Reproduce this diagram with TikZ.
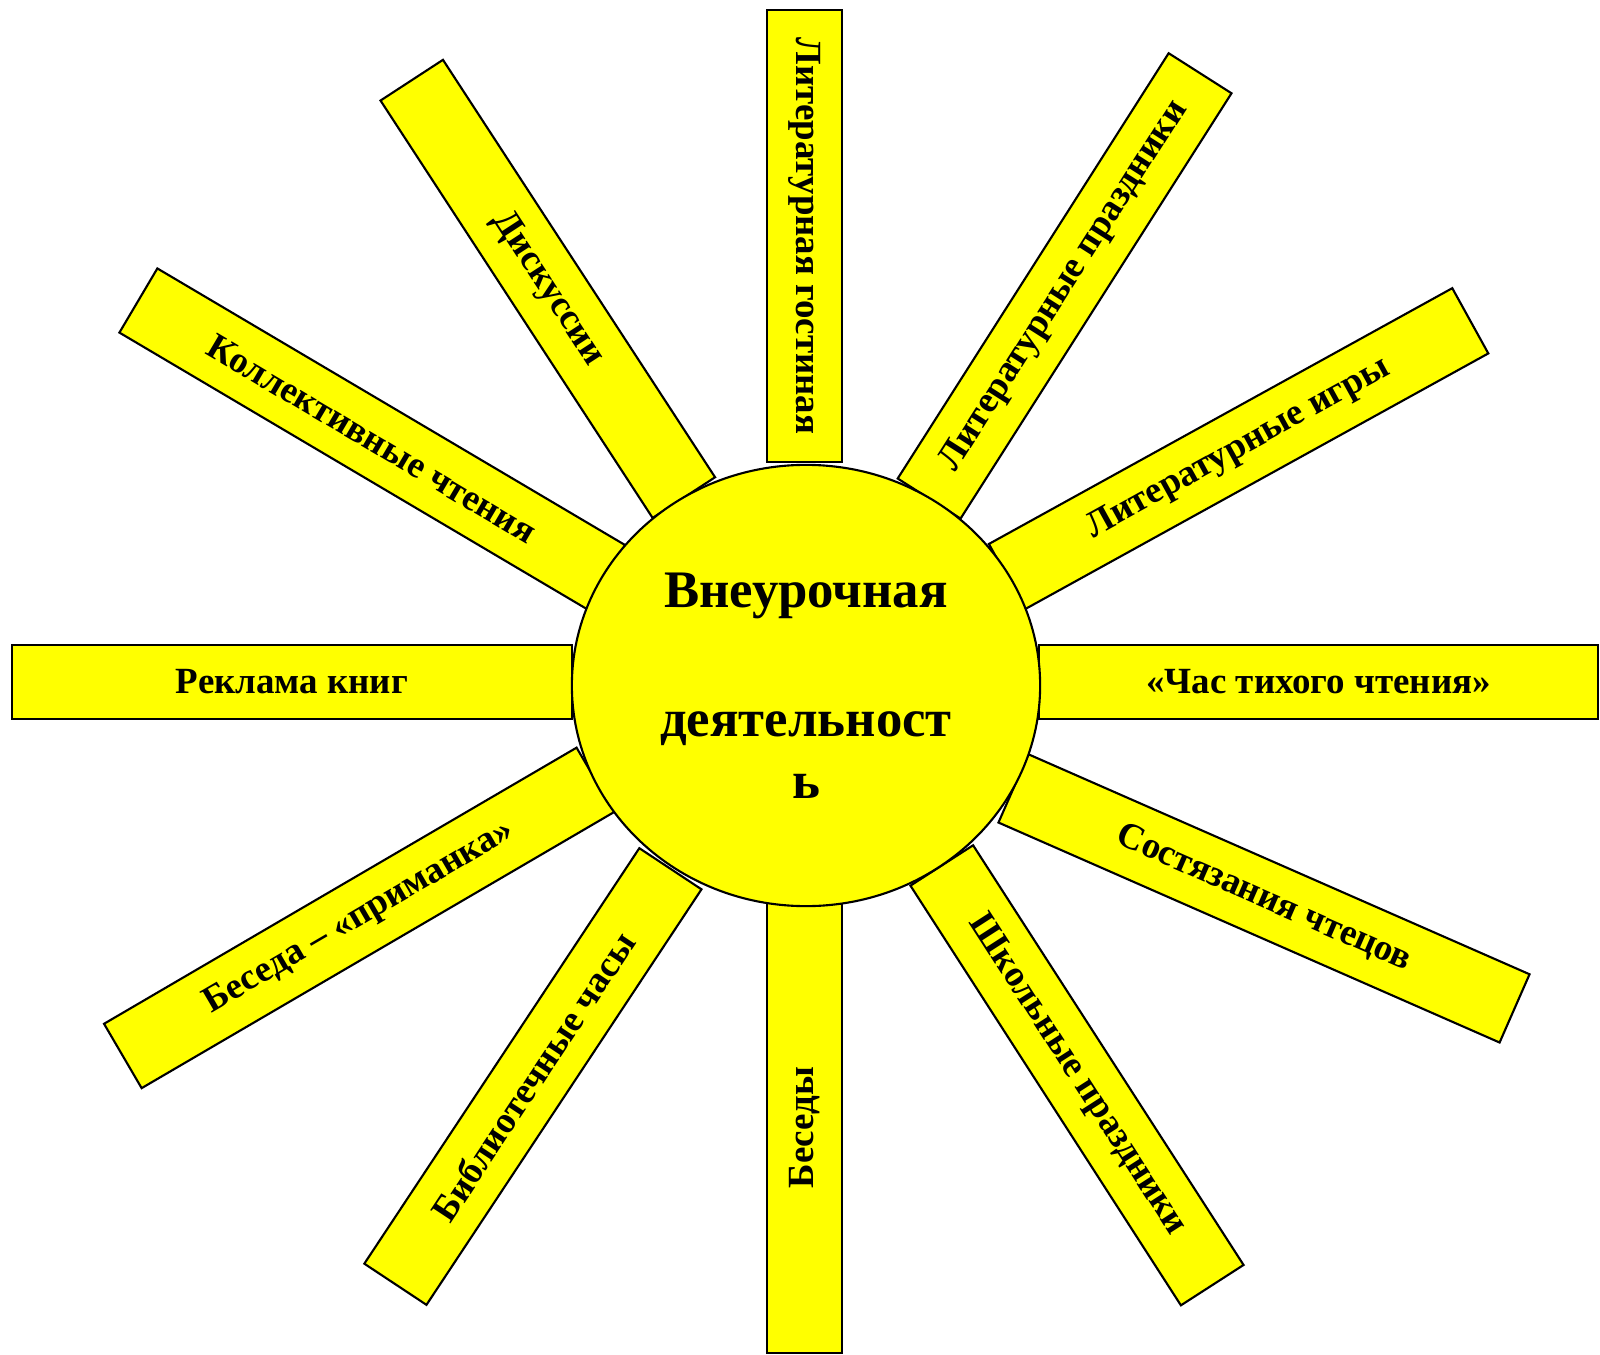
\documentclass[tikz,border=0pt]{standalone}
\usepackage{fontspec}
\setmainfont{Liberation Serif}
\usetikzlibrary{shapes.geometric}
\definecolor{sunyellow}{RGB}{255,255,0}

\begin{document}
\begin{tikzpicture}[%
        x = 0.01cm,
        y = -0.01cm,
        ray/.style = {draw, fill = sunyellow, line width = 0.6pt,
            minimum height = 0.745cm, inner sep = 0pt,
            font = \fontsize{10.5}{12.5}\selectfont\bfseries},
        sun/.style = {draw, fill = sunyellow, line width = 0.6pt, ellipse,
            minimum width = 4.68cm, minimum height = 4.41cm, inner sep = 0pt,
            align = center, font = \fontsize{15}{17.6}\selectfont\bfseries}
    ]

        % Page size of the reference.
        \useasboundingbox (0, 0) rectangle (1600, 1355);

        % Centre of the sun.
        \coordinate (O) at (806, 685.5);

        % The twelve rays, going round clockwise from the top.
        \node[ray, rotate = -90, minimum width = 4.52cm] (gostinaya)
            at (804.5, 236) {Литературная гостиная};
        \node[ray, rotate = 57.5, minimum width = 5.04cm] (prazdniki)
            at (1064.6, 285.9) {Литературные праздники};
        \node[ray, rotate = 28.9, minimum width = 5.29cm] (igry)
            at (1238.6, 448.7) {Литературные игры};
        \node[ray, minimum width = 5.59cm] (chas)
            at (1318.5, 682) {«Час тихого чтения»};
        \node[ray, rotate = -23.7, minimum width = 5.47cm] (chtecy)
            at (1264, 898.4) {Состязания чтецов};
        \node[ray, rotate = -57.2, minimum width = 4.99cm] (shkola)
            at (1077, 1075.3) {Школьные праздники};
        \node[ray, rotate = 90, minimum width = 4.51cm] (besedy)
            at (804.5, 1127.5) {Беседы};
        \node[ray, rotate = 56.5, minimum width = 4.98cm] (chasy)
            at (532.9, 1076.5) {Библиотечные часы};
        \node[ray, rotate = 30.3, minimum width = 5.47cm] (primanka)
            at (359.1, 917.9) {Беседа – «приманка»};
        \node[ray, minimum width = 5.59cm] (reklama)
            at (292, 682) {Реклама книг};
        \node[ray, rotate = -30.6, minimum width = 5.43cm] (chteniya)
            at (372.2, 438.8) {Коллективные чтения};
        \node[ray, rotate = -56.9, minimum width = 4.98cm] (diskussii)
            at (547.8, 288.9) {Дискуссии};

        % The sun itself, on top of the inner ends of the rays.
        \node[sun] (sun) at (O) {Внеурочная\\[19pt]деятельност\\ь};
    \end{tikzpicture}
\end{document}
